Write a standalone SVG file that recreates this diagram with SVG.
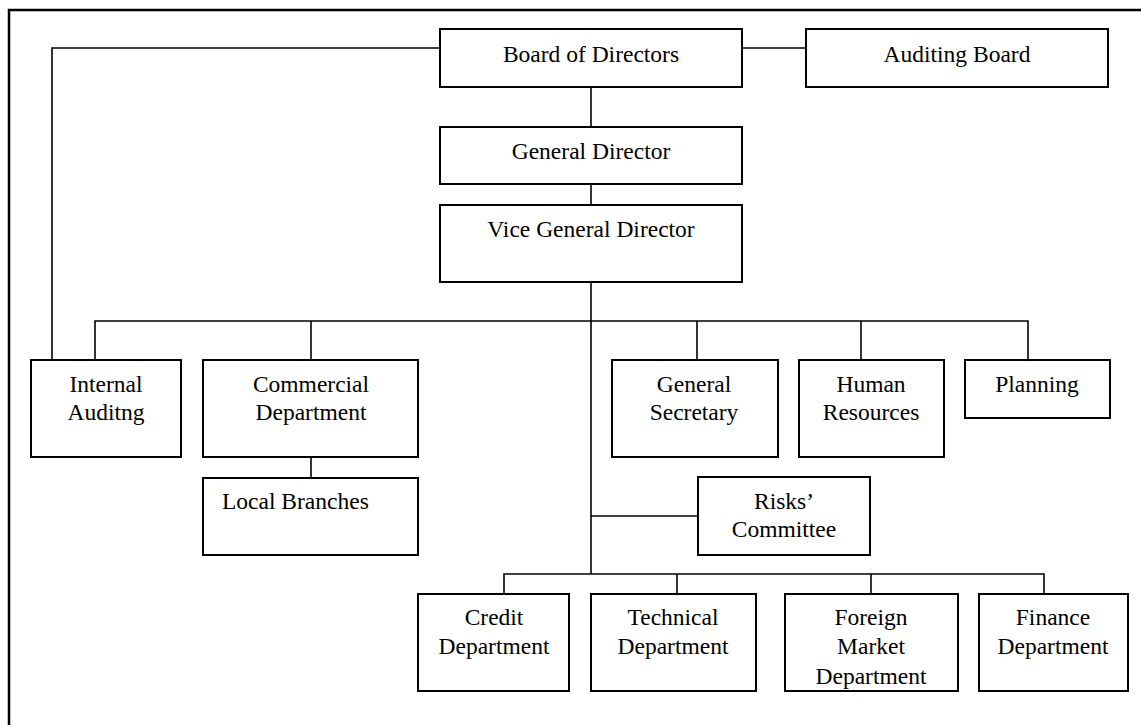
<svg xmlns="http://www.w3.org/2000/svg" width="1141" height="725" viewBox="0 0 1141 725">
<style>
.box{fill:#fff;stroke:#000;stroke-width:2}
.c{fill:none;stroke:#000;stroke-width:1.6}
.frame{fill:none;stroke:#000;stroke-width:2.5}
text{font-family:"Liberation Serif","Times New Roman",serif;font-size:23.5px;fill:#000;text-anchor:middle}
</style>
<rect width="1141" height="725" fill="#fff"/>
<path class="frame" d="M9,725 V10 H1141"/>
<g id="connectors">
<path class="c" d="M440,48 H52 V360"/>
<path class="c" d="M742,48 H806"/>
<path class="c" d="M591,87 V127"/>
<path class="c" d="M591,184 V205"/>
<path class="c" d="M591,282 V574"/>
<path class="c" d="M95,360 V321 H1028 V360"/>
<path class="c" d="M311,321 V360"/>
<path class="c" d="M697,321 V360"/>
<path class="c" d="M861,321 V360"/>
<path class="c" d="M311,457 V478"/>
<path class="c" d="M591,516 H698"/>
<path class="c" d="M504,594 V574 H1044 V594"/>
<path class="c" d="M677,574 V594"/>
<path class="c" d="M871,574 V594"/>
</g>
<g id="board"><rect class="box" x="440" y="29" width="302" height="58"/><text x="591" y="62">Board of Directors</text></g>
<g id="auditing"><rect class="box" x="806" y="29" width="302" height="58"/><text x="957" y="62">Auditing Board</text></g>
<g id="general-director"><rect class="box" x="440" y="127" width="302" height="57"/><text x="591" y="159">General Director</text></g>
<g id="vice-general-director"><rect class="box" x="440" y="205" width="302" height="77"/><text x="591" y="237">Vice General Director</text></g>
<g id="internal-auditing"><rect class="box" x="31" y="360" width="150" height="97"/><text x="106" y="392">Internal</text><text x="106" y="420">Auditng</text></g>
<g id="commercial"><rect class="box" x="203" y="360" width="215" height="97"/><text x="311" y="392">Commercial</text><text x="311" y="420">Department</text></g>
<g id="local-branches"><rect class="box" x="203" y="478" width="215" height="77"/><text x="222" y="509" style="text-anchor:start">Local Branches</text></g>
<g id="general-secretary"><rect class="box" x="612" y="360" width="166" height="97"/><text x="694" y="392">General</text><text x="694" y="420">Secretary</text></g>
<g id="human-resources"><rect class="box" x="799" y="360" width="145" height="97"/><text x="871" y="392">Human</text><text x="871" y="420">Resources</text></g>
<g id="planning"><rect class="box" x="965" y="360" width="145" height="58"/><text x="1037" y="392">Planning</text></g>
<g id="risks"><rect class="box" x="698" y="477" width="172" height="78"/><text x="784" y="509">Risks’</text><text x="784" y="537">Committee</text></g>
<g id="credit"><rect class="box" x="418" y="594" width="151" height="97"/><text x="494" y="625">Credit</text><text x="494" y="654">Department</text></g>
<g id="technical"><rect class="box" x="591" y="594" width="165" height="97"/><text x="673" y="625">Technical</text><text x="673" y="654">Department</text></g>
<g id="foreign"><rect class="box" x="785" y="594" width="173" height="97"/><text x="871" y="625">Foreign</text><text x="871" y="654">Market</text><text x="871" y="684">Department</text></g>
<g id="finance"><rect class="box" x="979" y="594" width="149" height="97"/><text x="1053" y="625">Finance</text><text x="1053" y="654">Department</text></g>
</svg>
